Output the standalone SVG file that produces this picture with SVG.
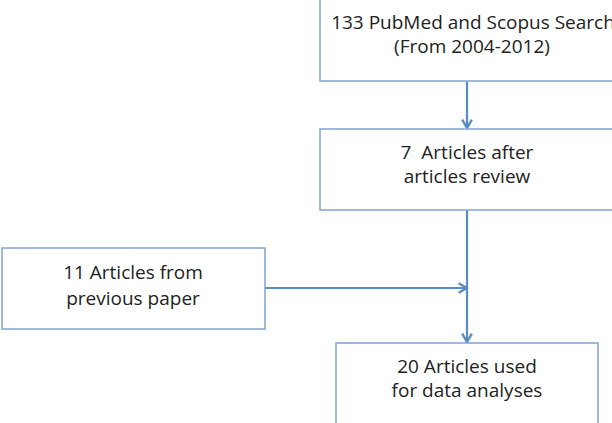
<svg xmlns="http://www.w3.org/2000/svg" width="612" height="423" viewBox="0 0 612 423">
<style>
.box{fill:#fff;stroke:#7fa3cf;stroke-width:1.5}
.t{font-family:"Open Sans","Liberation Sans",sans-serif;font-size:19px;fill:#222;text-anchor:middle;white-space:pre}
.c{stroke:#5b8bc4;stroke-width:2.2;fill:none}
</style>
<defs>
<marker id="ah" viewBox="0 0 10 10" refX="9" refY="5" markerWidth="12" markerHeight="12" orient="auto" markerUnits="userSpaceOnUse">
<path d="M2,1 L9,5 L2,9" fill="none" stroke="#5b8bc4" stroke-width="2"/>
</marker>
</defs>
<rect width="612" height="423" fill="#fff"/>
<g id="connectors">
<line class="c" x1="467" y1="82" x2="467" y2="128" marker-end="url(#ah)"/>
<line class="c" x1="467" y1="210" x2="467" y2="342" marker-end="url(#ah)"/>
<line class="c" x1="265" y1="288" x2="467" y2="288" marker-end="url(#ah)"/>
</g>
<g id="n1">
<rect class="box" x="320" y="-5" width="300" height="86"/>
<text class="t" x="473" y="29">133 PubMed and Scopus Search</text>
<text class="t" x="472" y="53">(From 2004-2012)</text>
</g>
<g id="n2">
<rect class="box" x="320" y="129" width="300" height="81"/>
<text class="t" x="467" y="159" xml:space="preserve">7  Articles after</text>
<text class="t" x="467" y="183">articles review</text>
</g>
<g id="n3">
<rect class="box" x="2" y="248" width="263" height="81"/>
<text class="t" x="133" y="279">11 Articles from</text>
<text class="t" x="133" y="305">previous paper</text>
</g>
<g id="n4">
<rect class="box" x="336" y="343" width="262" height="90"/>
<text class="t" x="467" y="373">20 Articles used</text>
<text class="t" x="467" y="397">for data analyses</text>
</g>
</svg>
